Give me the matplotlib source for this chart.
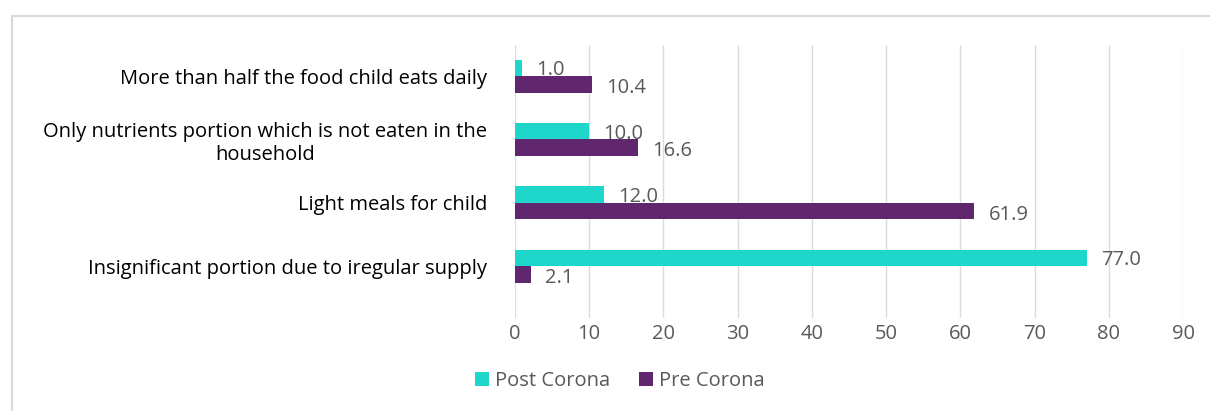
import matplotlib.pyplot as plt
import numpy as np
from matplotlib.patches import Rectangle

# Data (bottom to top)
categories = ["Insignificant portion due to iregular supply",
              "Light meals for child",
              "Only nutrients portion which is not eaten in the\nhousehold",
              "More than half the food child eats daily"]
post_corona = [77.0, 12.0, 10.0, 1.0]
pre_corona = [2.1, 61.9, 16.6, 10.4]

post_color = '#1fd6cb'
pre_color = '#60266e'
text_color = '#595959'

plt.rcParams['font.family'] = ['Open Sans', 'DejaVu Sans']
fs = 14.5

fig = plt.figure(figsize=(12.1, 4.11), dpi=100)
ax = fig.add_axes([0.4256, 0.2263, 0.5521, 0.6642])

y = np.arange(len(categories))
h = 0.26
ax.barh(y + h / 2, post_corona, height=h, color=post_color, label='Post Corona', zorder=3)
ax.barh(y - h / 2, pre_corona, height=h, color=pre_color, label='Pre Corona', zorder=3)

# value labels
for i in range(len(categories)):
    ax.text(post_corona[i] + 1.9, y[i] + h / 2 - 0.04, '%.1f' % post_corona[i],
            va='center', ha='left', fontsize=fs, color=text_color, zorder=4)
    ax.text(pre_corona[i] + 1.9, y[i] - h / 2 - 0.06, '%.1f' % pre_corona[i],
            va='center', ha='left', fontsize=fs, color=text_color, zorder=4)

ax.set_xlim(0, 90)
ax.set_xticks(np.arange(0, 91, 10))
ax.set_ylim(-0.82, 3.49)
ax.set_yticks(y)
ax.set_yticklabels(categories, fontsize=fs, color='black', multialignment='center')
ax.tick_params(axis='x', labelsize=fs, colors=text_color, length=0, pad=4)
ax.tick_params(axis='y', length=0, pad=20)
ax.grid(axis='x', color='#dcdcdc', linewidth=1, zorder=0)
for s in ax.spines.values():
    s.set_visible(False)

ax.legend(loc='center', bbox_to_anchor=(0.157, -0.23), bbox_transform=ax.transAxes,
          ncol=2, frameon=False, fontsize=fs, handlelength=0.7, handleheight=0.7,
          handletextpad=0.3, columnspacing=1.4, labelcolor=text_color)

# outer chart border
fig.patches.append(Rectangle((12 / 1210, -0.1), 1.2, 1 - 16 / 411 + 0.1, transform=fig.transFigure,
                             fill=False, edgecolor='#d9d9d9', linewidth=1.5))

fig.savefig('out.png', dpi=100)
